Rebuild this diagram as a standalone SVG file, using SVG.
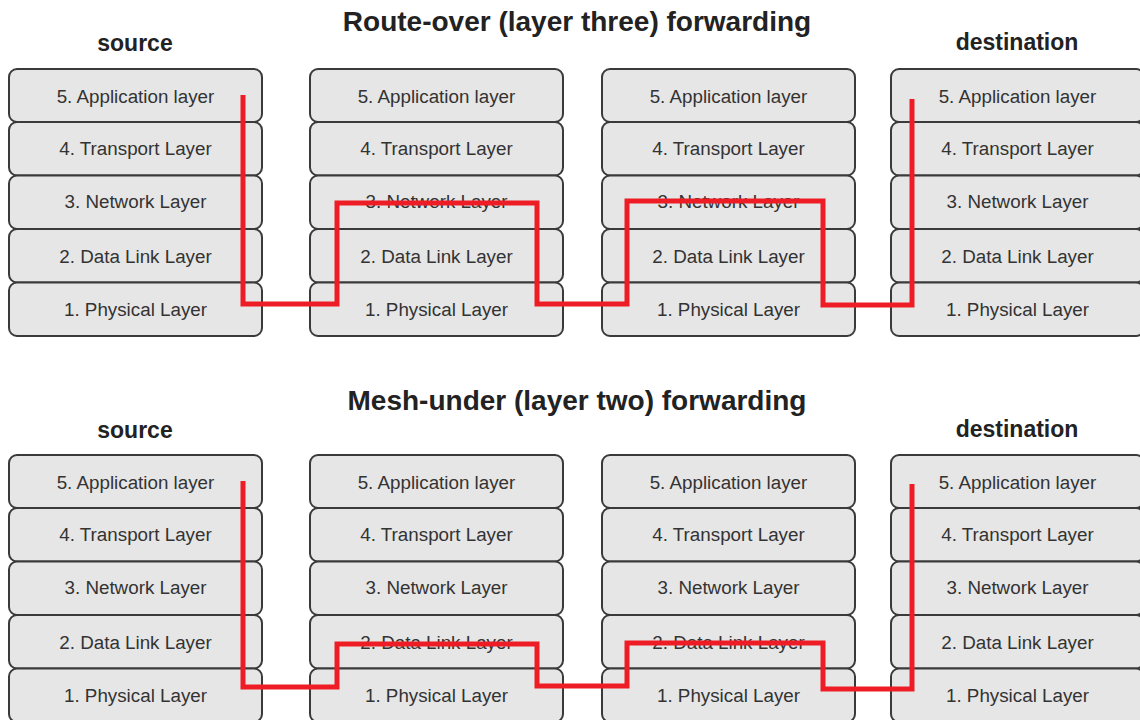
<svg xmlns="http://www.w3.org/2000/svg" width="1140" height="720" viewBox="0 0 1140 720">
<style>
.l{fill:#e6e6e6;stroke:#3a3a3a;stroke-width:2}
.t{font-family:"Liberation Sans",Arial,sans-serif;font-size:18.8px;fill:#333;text-anchor:middle}
.h{font-family:"Liberation Sans",Arial,sans-serif;font-weight:bold;font-size:23px;fill:#222;text-anchor:middle}
.ti{font-family:"Liberation Sans",Arial,sans-serif;font-weight:bold;font-size:28px;fill:#222;text-anchor:middle}
.r{fill:none;stroke:#ee1c25;stroke-width:5}
</style>
<defs>
<g id="stack">
<rect class="l" x="0" y="0" width="253" height="53" rx="8"/>
<rect class="l" x="0" y="53" width="253" height="53.5" rx="8"/>
<rect class="l" x="0" y="106.5" width="253" height="53.5" rx="8"/>
<rect class="l" x="0" y="160" width="253" height="53.5" rx="8"/>
<rect class="l" x="0" y="213.5" width="253" height="53.5" rx="8"/>
<text class="t" x="126.5" y="34">5. Application layer</text>
<text class="t" x="126.5" y="86">4. Transport Layer</text>
<text class="t" x="126.5" y="139">3. Network Layer</text>
<text class="t" x="126.5" y="194">2. Data Link Layer</text>
<text class="t" x="126.5" y="247">1. Physical Layer</text>
</g>
</defs>
<text class="ti" x="577" y="31">Route-over (layer three) forwarding</text>
<text class="h" x="135" y="51">source</text>
<text class="h" x="1017" y="50">destination</text>
<g id="top-source"><use href="#stack" x="9" y="69"/></g>
<g id="top-router1"><use href="#stack" x="310" y="69"/></g>
<g id="top-router2"><use href="#stack" x="602" y="69"/></g>
<g id="top-destination"><use href="#stack" x="891" y="69"/></g>
<text class="ti" x="577" y="410">Mesh-under (layer two) forwarding</text>
<text class="h" x="135" y="438">source</text>
<text class="h" x="1017" y="437">destination</text>
<g id="bottom-source"><use href="#stack" x="9" y="455"/></g>
<g id="bottom-node1"><use href="#stack" x="310" y="455"/></g>
<g id="bottom-node2"><use href="#stack" x="602" y="455"/></g>
<g id="bottom-destination"><use href="#stack" x="891" y="455"/></g>
<g id="connectors">
<polyline class="r" points="243,95 243,304 337,304 337,203 537,203 537,304 627,304 627,201 823,201 823,305 912,305 912,99"/>
<polyline class="r" points="243,481 243,687 337,687 337,644 537,644 537,686 627,686 627,643 823,643 823,689 912,689 912,484"/>
</g>
</svg>
